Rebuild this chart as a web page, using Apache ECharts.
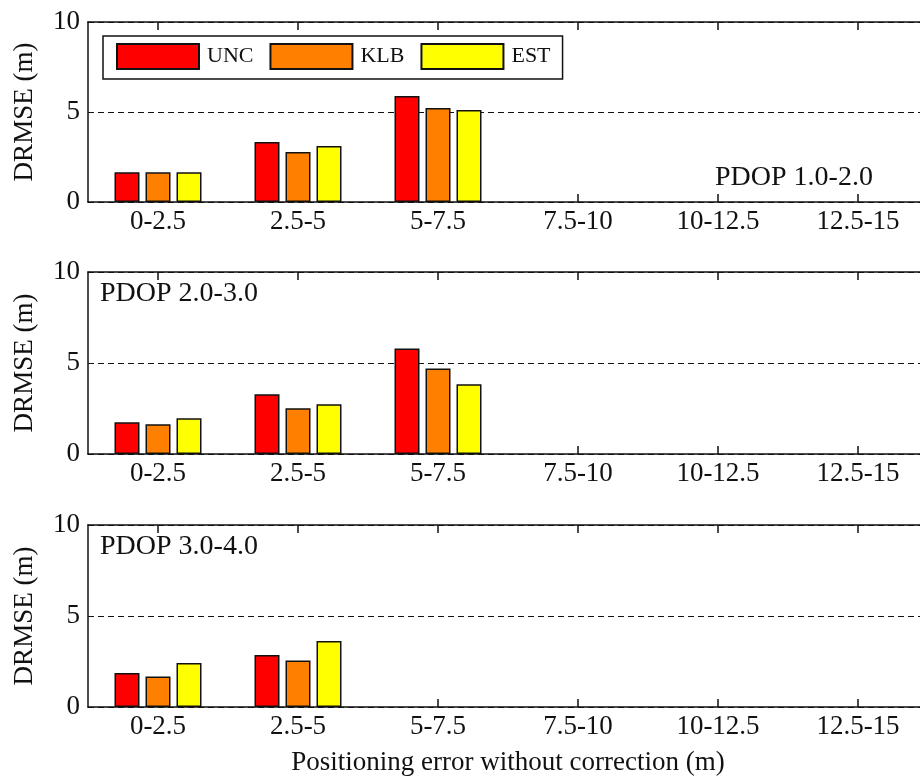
<!DOCTYPE html>
<html>
<head>
<meta charset="utf-8">
<script src="https://cdn.jsdelivr.net/npm/echarts@6/dist/echarts.min.js"></script>
<style>
  html, body { margin: 0; padding: 0; background: #fff; }
  #chart { width: 920px; height: 782px; }
</style>
</head>
<body>
<div id="chart"></div>
<script>
// 横轴分组
const categories = ['0-2.5', '2.5-5', '5-7.5', '7.5-10', '10-12.5', '12.5-15']
const seriesNames = ['UNC', 'KLB', 'EST']
const panelLabels = ['PDOP 1.0-2.0', 'PDOP 2.0-3.0', 'PDOP 3.0-4.0']

// PDOP 1.0-2.0
const pdop1Unc = [1.65, 3.33, 5.89, null, null, null]
const pdop1Klb = [1.65, 2.78, 5.22, null, null, null]
const pdop1Est = [1.65, 3.11, 5.11, null, null, null]
// PDOP 2.0-3.0
const pdop2Unc = [1.74, 3.28, 5.80, null, null, null]
const pdop2Klb = [1.63, 2.51, 4.70, null, null, null]
const pdop2Est = [1.96, 2.73, 3.83, null, null, null]
// PDOP 3.0-4.0
const pdop3Unc = [1.87, 2.86, null, null, null, null]
const pdop3Klb = [1.67, 2.55, null, null, null, null]
const pdop3Est = [2.42, 3.63, null, null, null, null]

const yTicks = [0, 5, 10]

const panelData = [
  [pdop1Unc, pdop1Klb, pdop1Est],
  [pdop2Unc, pdop2Klb, pdop2Est],
  [pdop3Unc, pdop3Klb, pdop3Est]
]
const colors = ['#FF0000', '#FF8000', '#FFFF00']

const font = "'Liberation Serif', 'Times New Roman', serif"
const ink = '#111'

const grids = [
  { left: 88, width: 840, top: 22, height: 180, outerBoundsMode: 'none' },
  { left: 88, width: 840, top: 272, height: 182, outerBoundsMode: 'none' },
  { left: 88, width: 840, top: 525, height: 182, outerBoundsMode: 'none' }
]

const tickStyle = { show: true, inside: true, alignWithLabel: true, interval: 0, length: 8, lineStyle: { color: ink, width: 1.5 } }

const xAxes = []
const yAxes = []
const series = []

grids.forEach((g, i) => {
  // 下方轴
  xAxes.push({
    type: 'category',
    gridIndex: i,
    data: categories,
    position: 'bottom',
    axisLine: { lineStyle: { color: ink, width: 1.5 } },
    axisTick: tickStyle,
    axisLabel: { color: ink, fontFamily: font, fontSize: 27, margin: 6, interval: 0 },
    name: i === 2 ? 'Positioning error without correction (m)' : '',
    nameLocation: 'middle',
    nameGap: 42,
    nameTextStyle: { color: ink, fontFamily: font, fontSize: 27 }
  })
  // 上方轴（边框 + 刻度）
  xAxes.push({
    type: 'category',
    gridIndex: i,
    data: categories,
    position: 'top',
    axisLine: { lineStyle: { color: ink, width: 1.5 } },
    axisTick: tickStyle,
    axisLabel: { show: false }
  })
  yAxes.push({
    type: 'value',
    gridIndex: i,
    min: yTicks[0],
    max: yTicks[yTicks.length - 1],
    interval: 5,
    axisLine: { show: true, lineStyle: { color: ink, width: 1.5 } },
    axisTick: { show: false },
    axisLabel: { color: ink, fontFamily: font, fontSize: 27, margin: 8 },
    splitLine: { show: true, lineStyle: { color: ink, type: [6, 4], width: 1.2 } },
    name: 'DRMSE (m)',
    nameLocation: 'middle',
    nameGap: 50,
    nameTextStyle: { color: ink, fontFamily: font, fontSize: 27 }
  })
  seriesNames.forEach((name, k) => {
    series.push({
      name: name,
      type: 'bar',
      xAxisIndex: i * 2,
      yAxisIndex: i,
      data: panelData[i][k],
      barWidth: 25,
      barGap: '24%',
      itemStyle: { color: colors[k], borderColor: ink, borderWidth: 1.5 }
    })
  })
})

const chart = echarts.init(document.getElementById('chart'))
chart.setOption({
  backgroundColor: '#FFFFFF',
  animation: false,
  grid: grids,
  xAxis: xAxes,
  yAxis: yAxes,
  legend: {
    data: seriesNames,
    left: 103,
    top: 36,
    orient: 'horizontal',
    icon: 'rect',
    itemWidth: 82,
    itemHeight: 25,
    itemGap: 16,
    padding: [7, 12, 9, 13],
    backgroundColor: '#fff',
    borderColor: ink,
    borderWidth: 1.5,
    borderRadius: 0,
    textStyle: { color: ink, fontFamily: font, fontSize: 22, padding: [0, 0, 0, 3] },
    selectedMode: false
  },
  graphic: [
    { type: 'text', left: 715, top: 164, style: { text: panelLabels[0], fill: ink, font: '28px ' + font } },
    { type: 'text', left: 100, top: 280, style: { text: panelLabels[1], fill: ink, font: '28px ' + font } },
    { type: 'text', left: 100, top: 533, style: { text: panelLabels[2], fill: ink, font: '28px ' + font } }
  ],
  series: series
})
</script>
</body>
</html>
